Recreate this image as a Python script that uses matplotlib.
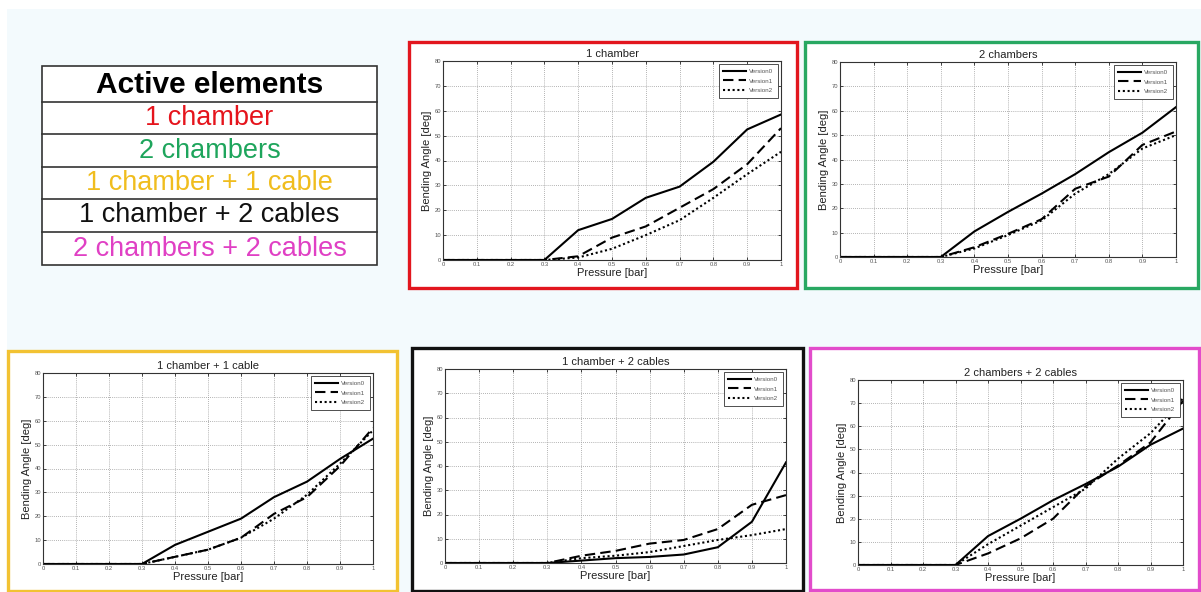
import matplotlib
matplotlib.use("Agg")
import matplotlib.pyplot as plt
from matplotlib.patches import Rectangle
from matplotlib.lines import Line2D

plt.rcParams['font.family'] = ['Liberation Sans', 'DejaVu Sans']

W, H = 1201, 592

# pressure steps shared by every test
pressure = [0.0, 0.1, 0.2, 0.3, 0.4, 0.5, 0.6, 0.7, 0.8, 0.9, 1.0]
versions = ["Version0", "Version1", "Version2"]

# bending angle [deg] per configuration, one list per prototype version
one_chamber_v0 = [0, 0, 0, 0, 12, 16.5, 25, 29.5, 39.5, 52.5, 58.5]
one_chamber_v1 = [0, 0, 0, 0, 1.5, 9, 13.5, 21, 28.5, 38.5, 53]
one_chamber_v2 = [0, 0, 0, 0, 1, 4.5, 10, 16, 25, 34.5, 43.5]

two_chambers_v0 = [0, 0, 0, 0, 10.5, 18.5, 26, 34, 43, 51, 61.5]
two_chambers_v1 = [0, 0, 0, 0, 4, 9.5, 15.5, 28, 33, 46, 51.5]
two_chambers_v2 = [0, 0, 0, 0, 3.5, 9, 15, 26, 34, 44.5, 50]

ch1_cable1_v0 = [0, 0, 0, 0, 8, 13.5, 19, 28, 34.5, 44, 52.5]
ch1_cable1_v1 = [0, 0, 0, 0, 3, 6, 11, 21, 28, 41, 57]
ch1_cable1_v2 = [0, 0, 0, 0, 3, 6, 11, 19, 29, 42, 56]

ch1_cable2_v0 = [0, 0, 0, 0, 1, 2, 2.5, 3.5, 6.5, 17, 41.5]
ch1_cable2_v1 = [0, 0, 0, 0, 3, 5, 8, 9.5, 14, 24, 28]
ch1_cable2_v2 = [0, 0, 0, 0, 2, 3, 4.5, 7, 9.5, 11.5, 14]

ch2_cable2_v0 = [0, 0, 0, 0, 12.5, 20, 28, 35, 42.5, 52, 59]
ch2_cable2_v1 = [0, 0, 0, 0, 5, 11.5, 20, 34, 43, 53, 71]
ch2_cable2_v2 = [0, 0, 0, 0, 9, 17, 25, 33, 46, 57, 72]

configs = ["1 chamber", "2 chambers", "1 chamber + 1 cable",
           "1 chamber + 2 cables", "2 chambers + 2 cables"]
config_colors = ["#e5141c", "#1ea55c", "#f0bd1e", "#111111", "#e040c4"]
frame_colors = ["#e2161e", "#28a862", "#f2c232", "#111111", "#e24ccb"]

series = [
    (one_chamber_v0, one_chamber_v1, one_chamber_v2),
    (two_chambers_v0, two_chambers_v1, two_chambers_v2),
    (ch1_cable1_v0, ch1_cable1_v1, ch1_cable1_v2),
    (ch1_cable2_v0, ch1_cable2_v1, ch1_cable2_v2),
    (ch2_cable2_v0, ch2_cable2_v1, ch2_cable2_v2),
]

# pixel boxes (left, top, right, bottom) for the frames and the plot areas
frames = [(409, 42, 797, 288), (805, 42, 1198, 288), (8, 351, 397, 591),
          (412, 348, 803, 591), (810, 348, 1199, 590)]
plot_areas = [(443, 61, 781, 260), (840, 62, 1176, 257), (43, 373, 373, 564),
              (445, 369, 786, 563), (858, 380, 1183, 565)]
styles = [dict(ls="-", lw=1.5), dict(ls=(0, (5, 2.5)), lw=1.5), dict(ls=(0, (1, 1.3)), lw=1.5)]


def fig_rect(box):
    l, t, r, b = box
    return [l / W, 1 - b / H, (r - l) / W, (b - t) / H]


fig = plt.figure(figsize=(W / 100, H / 100), dpi=100, facecolor="white")

# background layer: pale slide colour, coloured frames and the table
bg = fig.add_axes([0, 0, 1, 1], zorder=-5)
bg.set_xlim(0, W)
bg.set_ylim(H, 0)
bg.axis("off")
bg.add_patch(Rectangle((7, 9), W - 7, H - 9, facecolor="#f3fafd", edgecolor="none"))
for box, col in zip(frames, frame_colors):
    l, t, r, b = box
    bg.add_patch(Rectangle((l, t), r - l, b - t, facecolor="white",
                           edgecolor=col, linewidth=2.4))

# "Active elements" table
tl, tt, tr, tb = 42, 66, 377, 265
row_edges = [66, 102, 134, 167, 199, 232, 265]
bg.add_patch(Rectangle((tl, tt), tr - tl, tb - tt, facecolor="white",
                       edgecolor="#333333", linewidth=1.2))
for y in row_edges[1:-1]:
    bg.add_line(Line2D([tl, tr], [y, y], color="#333333", lw=1.2))
cx = (tl + tr) / 2
bg.text(cx, (row_edges[0] + row_edges[1]) / 2 + 1, "Active elements", fontsize=21.5,
        fontweight="bold", ha="center", va="center", color="black")
for i, (name, col) in enumerate(zip(configs, config_colors)):
    yc = (row_edges[i + 1] + row_edges[i + 2]) / 2
    bg.text(cx, yc, name, fontsize=19.5, ha="center", va="center", color=col)

for title, area, data in zip(configs, plot_areas, series):
    ax = fig.add_axes(fig_rect(area))
    for y, name, st in zip(data, versions, styles):
        ax.plot(pressure, y, color="black", label=name, **st)
    ax.set_xlim(0, 1)
    ax.set_ylim(0, 80)
    ax.set_xticks(pressure)
    ax.set_xticklabels(["0", "0.1", "0.2", "0.3", "0.4", "0.5", "0.6", "0.7", "0.8", "0.9", "1"])
    ax.set_yticks(range(0, 81, 10))
    ax.tick_params(labelsize=4.2, labelcolor="#555555", length=2, width=0.5,
                   direction="in", pad=1.5, top=True, right=True)
    ax.grid(True, ls=(0, (1, 1.5)), lw=0.6, color="#9a9a9a")
    for sp in ax.spines.values():
        sp.set_linewidth(0.8)
        sp.set_color("#333333")
    ax.set_title(title, fontsize=8, pad=3, color="#222222")
    ax.set_xlabel("Pressure [bar]", fontsize=8, labelpad=1, color="#222222")
    ax.set_ylabel("Bending Angle [deg]", fontsize=8, labelpad=2, color="#222222")
    leg = ax.legend(loc="upper right", fontsize=4.5, handlelength=3.6, handletextpad=0.6,
                    borderpad=0.7, labelspacing=0.7, fancybox=False, framealpha=1,
                    borderaxespad=0.5)
    leg.get_frame().set_edgecolor("#333333")
    leg.get_frame().set_linewidth(0.6)
    for t in leg.get_texts():
        t.set_color("#555555")

fig.savefig("out.png", dpi=100, facecolor=fig.get_facecolor())
